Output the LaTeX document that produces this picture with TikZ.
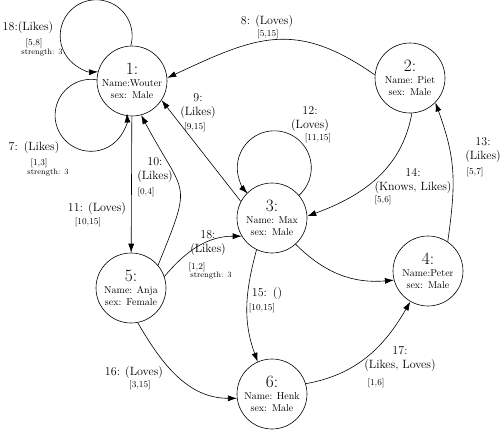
\documentclass[tikz,border=0pt]{standalone}
\usepackage{tikz}
\usepackage{amsmath}
\usetikzlibrary{arrows.meta}

\begin{document}
\begin{tikzpicture}[x=1pt,y=1pt,
    vertex/.style={draw,circle,minimum size=70pt,inner sep=0pt,align=center,line width=0.6pt},
    arr/.style={draw,line width=0.6pt,-{Latex[length=9pt,width=6pt]}},
    lbl/.style={font=\large,inner sep=0pt},
    rng/.style={font=\small,inner sep=0pt},
    strg/.style={font=\footnotesize,inner sep=0pt}]
    \useasboundingbox (0,0) rectangle (504,-432);

    \node[vertex] (wouter) at (132,-81)  {{\LARGE 1:}\\Name:Wouter\\sex:\enspace Male};
    \node[vertex] (piet)   at (410,-78)  {{\LARGE 2:}\\Name: Piet\\sex:\enspace Male};
    \node[vertex] (max)    at (272,-218) {{\LARGE 3:}\\Name: Max\\sex:\enspace Male};
    \node[vertex] (peter)  at (428,-271) {{\LARGE 4:}\\Name:Peter\\sex:\enspace Male};
    \node[vertex] (anja)   at (131,-288) {{\LARGE 5:}\\Name: Anja\\sex:\enspace Female};
    \node[vertex] (henk)   at (272,-394) {{\LARGE 6:}\\Name: Henk\\sex:\enspace Male};

    \node[lbl]  (lone)    at (28,-28)   {18:(Likes)};
    \node[rng]  (lonea)   at (34,-43)   {[5,8]};
    \node[strg] (loneb)   at (42,-53)   {strength: 3};
    \node[lbl]  (lseven)  at (34,-148)  {7:\enspace(Likes)};
    \node[rng]  (lsevena) at (39,-163)  {[1,3]};
    \node[strg] (lsevenb) at (48,-173)  {strength: 3};
    \node[lbl]  (leight)  at (267,-22)  {8: (Loves)};
    \node[rng]  (leighta) at (268,-34)  {[5,15]};
    \node[lbl,align=center] (lnine) at (198,-106) {9:\\(Likes)};
    \node[rng]  (lninea)  at (195,-127) {[9,15]};
    \node[lbl,align=center] (lten) at (155,-170) {10:\\(Likes)};
    \node[rng]  (ltena)   at (146,-192) {[0,4]};
    \node[lbl]  (leleven) at (97,-209)  {11: (Loves)};
    \node[rng]  (lelevena) at (88,-222) {[10,15]};
    \node[lbl,align=center] (ltwelve) at (310,-119) {12:\\(Loves)};
    \node[rng]  (ltwelvea) at (318,-138) {[11,15]};
    \node[lbl,align=center] (lthirteen) at (483,-150) {13:\\(Likes)};
    \node[rng]  (lthirteena) at (475,-172) {[5,7]};
    \node[lbl,align=center] (lfourteen) at (413,-181) {14:\\(Knows, Likes)};
    \node[rng]  (lfourteena) at (383,-200) {[5,6]};
    \node[lbl]  (lfifteen) at (267,-294) {15:\enspace ()};
    \node[rng]  (lfifteena) at (262,-308) {[10,15]};
    \node[lbl]  (lsixteen) at (134,-372) {16: (Loves)};
    \node[rng]  (lsixteena) at (140,-385) {[3,15]};
    \node[lbl,align=center] (lseventeen) at (400,-359) {17:\\(Likes, Loves)};
    \node[rng]  (lseventeena) at (376,-383) {[1,6]};
    \node[lbl,align=center] (leighteen) at (208,-243) {18:\\(Likes)};
    \node[rng]  (leighteena) at (197,-267) {[1,2]};
    \node[strg] (leighteenb) at (211,-276) {strength: 3};

    % self loops
    \draw[arr] (wouter.92) arc[start angle=-16,end angle=273,radius=36];
    \draw[arr] (wouter.178) arc[start angle=81,end angle=363,radius=36];
    \draw[arr] (max.40) arc[start angle=-48,end angle=224,radius=37];

    \draw[arr] (piet.175) to[out=145,in=25,looseness=1.2] (wouter.5);
    \draw[arr] (max.152) -- (wouter.-33);
    \draw[arr] (anja.40) to[out=68,in=-62,looseness=1.6] (wouter.-75);
    \draw[arr] (wouter) -- (anja);
    \draw[arr] (peter.56) to[out=82,in=-70,looseness=1.1] (piet.-44);
    \draw[arr] (piet.-87) to[out=-100,in=20] (max.3);
    \draw[arr] (max.-116) to[out=-105,in=110] (henk.114);
    \draw[arr] (max.-48) to[out=-45,in=185] (peter.195);
    \draw[arr] (anja.-79) to[out=-60,in=180] (henk.187);
    \draw[arr] (henk.17) to[out=10,in=-120] (peter.-120);
    \draw[arr] (anja.19) to[out=50,in=180] (max.211);
  \end{tikzpicture}
\end{document}
